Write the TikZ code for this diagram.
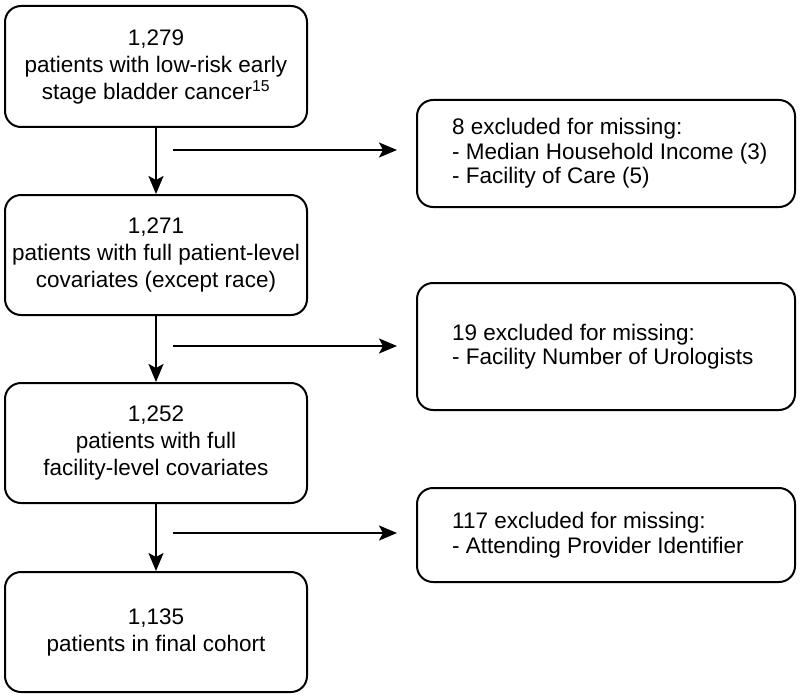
\documentclass[tikz,border=0pt]{standalone}
\usepackage{fontspec}
\setmainfont{Liberation Sans}
\usetikzlibrary{arrows.meta,positioning}
\begin{document}
\begin{tikzpicture}[x=1pt,y=-1pt,
  box/.style={draw, line width=2pt, rounded corners=16pt, minimum width=302pt, inner sep=0pt,
    align=center, font=\fontsize{22.5}{27}\selectfont},
  rbox/.style={draw, line width=2pt, rounded corners=16pt, minimum width=378pt, inner sep=0pt},
  rtext/.style={anchor=west, align=left, inner sep=0pt, font=\fontsize{22.5}{24.5}\selectfont},
  arr/.style={line width=2pt, -{Stealth[length=18pt,width=15pt,inset=4pt]}}
]
\useasboundingbox (0,0) rectangle (800,698);
\node[box, minimum height=121pt] (b1) at (156,66.5) {1,279\\patients with low-risk early\\stage bladder cancer\textsuperscript{15}};
\node[box, minimum height=120pt] (b2) at (156,255) {1,271\\patients with full patient-level\\covariates (except race)};
\node[box, minimum height=120pt] (b3) at (156,443) {1,252\\patients with full\\facility-level covariates};
\node[box, minimum height=120pt] (b4) at (156,632) {1,135\\patients in final cohort};
\node[rbox, minimum height=107pt] (r1) at (606,153.5) {};
\node[rtext] (t1) at ([xshift=36pt]r1.west) {8 excluded for missing:\\- Median Household Income (3)\\- Facility of Care (5)};
\node[rbox, minimum height=127pt] (r2) at (606,346.5) {};
\node[rtext] (t2) at ([xshift=36pt]r2.west) {19 excluded for missing:\\- Facility Number of Urologists};
\node[rbox, minimum height=94pt] (r3) at (606,535) {};
\node[rtext] (t3) at ([xshift=36pt]r3.west) {117 excluded for missing:\\- Attending Provider Identifier};
\coordinate (s1) at (173,150);
\coordinate (s2) at (173,346);
\coordinate (s3) at (173,533);
\draw[arr] (b1.south) -- (b2.north);
\draw[arr] (b2.south) -- (b3.north);
\draw[arr] (b3.south) -- (b4.north);
\draw[arr, shorten >=19pt] (s1) -- (s1 -| r1.west);
\draw[arr, shorten >=19pt] (s2) -- (s2 -| r2.west);
\draw[arr, shorten >=19pt] (s3) -- (s3 -| r3.west);
\end{tikzpicture}
\end{document}
